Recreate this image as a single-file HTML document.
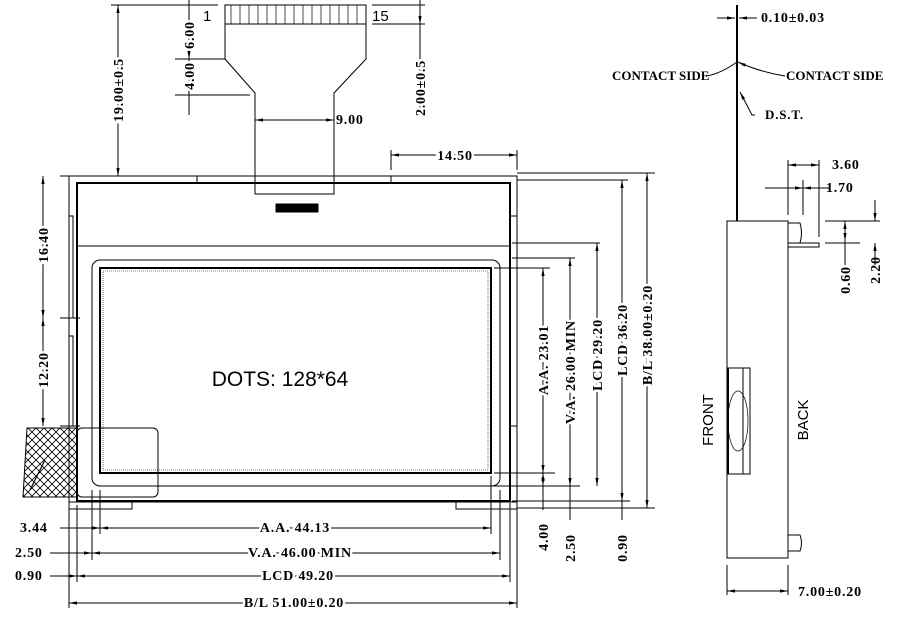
<!DOCTYPE html>
<html><head><meta charset="utf-8"><style>
html,body{margin:0;padding:0;background:#fff}
svg{display:block}
text{font-family:"Liberation Serif",serif;font-weight:bold;font-size:14px;letter-spacing:0.8px;fill:#000}
.m{text-anchor:middle}
.w{paint-order:stroke;stroke:#fff;stroke-width:5px}
.s{font-family:"Liberation Sans",sans-serif;font-weight:normal;letter-spacing:0}
</style></head><body>
<svg width="899" height="617" viewBox="0 0 899 617" xmlns="http://www.w3.org/2000/svg">
<defs>
<pattern id="h" width="8" height="8" patternUnits="userSpaceOnUse">
<path d="M0 0L8 8M8 0L0 8" stroke="#000" stroke-width="0.8"/>
</pattern>
<marker id="a" viewBox="0 0 10 6" refX="10" refY="3" markerWidth="8" markerHeight="5" orient="auto-start-reverse"><path d="M0 1L10 3L0 5z" fill="#000"/></marker>
</defs>
<g fill="none" stroke="#000" stroke-width="1">
<rect x="225" y="5" width="141" height="19"/>
<path d="M225 24V59L255 93V194H334V93L366 59V24"/>
<g stroke-width="0.7">
<path d="M231 5V24M240 5V24M249 5V24M258 5V24M267 5V24M276 5V24M285 5V24M294 5V24M303 5V24M312 5V24M321 5V24M330 5V24M339 5V24M348 5V24M357 5V24"/>
</g>
<rect x="276" y="204" width="42" height="8" fill="#000"/>
<rect x="69" y="176" width="448" height="326"/>
<rect x="77" y="183" width="433" height="318" stroke-width="2"/>
<path d="M77 246H510"/>
<path d="M197 176V183M391 176V183"/>
<rect x="92" y="260" width="408" height="226" rx="8"/>
<rect x="100" y="268" width="391" height="205" stroke-width="2"/>
<rect x="103" y="271" width="385" height="199" stroke-width="0.6" stroke-dasharray="1 1"/>
<path d="M69 502v7h63v-7M456 502v7h61v-7"/>
<path d="M69 318H73V216H69M69 426H73V336H69"/>
<path d="M510 216H517V318M510 426H517V490"/>
<path d="M27 428H77V497H23z" fill="url(#h)"/>
<path d="M30 490L45 460" stroke-width="1.2"/>
<rect x="77" y="428" width="81" height="69" rx="5"/>
<path d="M118 5V176" marker-start="url(#a)" marker-end="url(#a)"/>
<path d="M60 176H90M60 318H80M60 426H80"/>
<path d="M43 176V318" marker-start="url(#a)" marker-end="url(#a)"/>
<path d="M43 318V426" marker-start="url(#a)" marker-end="url(#a)"/>
<path d="M111 5H218M175 59H225M175 95H250"/>
<path d="M189 0V59" marker-end="url(#a)"/>
<path d="M189 59V95" marker-start="url(#a)" marker-end="url(#a)"/>
<path d="M189 95V115"/>
<path d="M372 5H425M372 24H425"/>
<path d="M420 0V24" marker-end="url(#a)"/>
<path d="M420 24V115"/>
<path d="M255 120H334" marker-start="url(#a)" marker-end="url(#a)"/>
<path d="M391 150V170M517 150V170"/>
<path d="M391 155H517" marker-start="url(#a)" marker-end="url(#a)"/>
<path d="M69 505V608M77 505V582M92 490V560M100 490V534M491 476V534M500 490V560M510 503V582M517 503V608"/>
<path d="M60 528H100" marker-end="url(#a)"/>
<path d="M100 528H491" marker-start="url(#a)" marker-end="url(#a)"/>
<path d="M50 553H92" marker-end="url(#a)"/>
<path d="M92 553H500" marker-start="url(#a)" marker-end="url(#a)"/>
<path d="M50 576H77" marker-end="url(#a)"/>
<path d="M77 576H510" marker-start="url(#a)" marker-end="url(#a)"/>
<path d="M69 603H517" marker-start="url(#a)" marker-end="url(#a)"/>
<path d="M494 268H550M494 473H555M494 486H580M512 258H575M512 243H600M512 501H630M517 508H655M517 180H628M517 173H655"/>
<path d="M543 268V473" marker-start="url(#a)" marker-end="url(#a)"/>
<path d="M543 473V486" marker-start="url(#a)" marker-end="url(#a)"/>
<path d="M543 486V510"/>
<path d="M570 258V486" marker-start="url(#a)" marker-end="url(#a)"/>
<path d="M570 486V520"/>
<path d="M597 243V486" marker-start="url(#a)" marker-end="url(#a)"/>
<path d="M622 180V501" marker-start="url(#a)" marker-end="url(#a)"/>
<path d="M622 501V520"/>
<path d="M647 173V508" marker-start="url(#a)" marker-end="url(#a)"/>
<path d="M737 5V221" stroke-width="2"/>
<rect x="727" y="221" width="61" height="337"/>
<path d="M727 368H750V474H727" fill="#fff"/>
<path d="M728 368V474" stroke-width="2"/>
<path d="M743 368V474"/>
<ellipse cx="738" cy="421" rx="10" ry="30" stroke-width="0.7"/>
<path d="M788 223H800Q803 233 800 243H788"/>
<path d="M788 243H819V247H788"/>
<path d="M788 535H800Q803 543 800 551H788"/>
<path d="M717 18H735" marker-end="url(#a)"/>
<path d="M757 18H739" marker-end="url(#a)"/>
<path d="M706 76Q720 74 737 62"/>
<path d="M785 76Q760 72 738 62" marker-end="url(#a)"/>
<path d="M755 115H752L740 92" marker-end="url(#a)"/>
<path d="M788 160V215M819 160V237M803 180V215"/>
<path d="M788 165H819" marker-start="url(#a)" marker-end="url(#a)"/>
<path d="M765 188H803" marker-end="url(#a)"/>
<path d="M829 188H803" marker-end="url(#a)"/>
<path d="M825 221H880M825 243H860"/>
<path d="M845 221V241" marker-start="url(#a)" marker-end="url(#a)"/>
<path d="M845 241V265"/>
<path d="M875 200V221" marker-end="url(#a)"/>
<path d="M875 265V243" marker-end="url(#a)"/>
<path d="M727 565V595M788 565V595"/>
<path d="M727 591H788" marker-start="url(#a)" marker-end="url(#a)"/>
</g>
<text x="203" y="21" class="s" style="font-size:15px">1</text>
<text x="372" y="21" class="s" style="font-size:15px">15</text>
<text x="336" y="124">9.00</text>
<text x="455" y="160" class="m w">14.50</text>
<text class="s m" x="280" y="386" style="font-size:21px">DOTS: 128*64</text>
<text class="m w" transform="translate(123,90) rotate(-90)">19.00±0.5</text>
<text class="m w" transform="translate(48,245) rotate(-90)">16.40</text>
<text class="m w" transform="translate(48,370) rotate(-90)">12.20</text>
<text class="m w" transform="translate(194,35) rotate(-90)">6.00</text>
<text class="m w" transform="translate(194,76) rotate(-90)">4.00</text>
<text class="m w" transform="translate(425,88) rotate(-90)">2.00±0.5</text>
<text class="m w" transform="translate(548,360) rotate(-90)">A.A. 23.01</text>
<text class="m w" transform="translate(575,372) rotate(-90)">V.A. 26.00 MIN</text>
<text class="m w" transform="translate(602,355) rotate(-90)">LCD 29.20</text>
<text class="m w" transform="translate(627,340) rotate(-90)">LCD 36.20</text>
<text class="m w" transform="translate(652,335) rotate(-90)">B/L 38.00±0.20</text>
<text class="m" transform="translate(548,537) rotate(-90)">4.00</text>
<text class="m" transform="translate(575,548) rotate(-90)">2.50</text>
<text class="m" transform="translate(627,548) rotate(-90)">0.90</text>
<text class="m" transform="translate(850,280) rotate(-90)">0.60</text>
<text class="m" transform="translate(880,270) rotate(-90)">2.20</text>
<text class="s m" transform="translate(713,420) rotate(-90)" style="font-size:15px">FRONT</text>
<text class="s m" transform="translate(808,420) rotate(-90)" style="font-size:15px">BACK</text>
<text x="20" y="532">3.44</text>
<text x="15" y="557">2.50</text>
<text x="15" y="580">0.90</text>
<text x="295" y="532" class="m w">A.A. 44.13</text>
<text x="300" y="557" class="m w">V.A. 46.00 MIN</text>
<text x="298" y="580" class="m w">LCD 49.20</text>
<text x="294" y="607" class="m w">B/L 51.00±0.20</text>
<text x="761" y="22">0.10±0.03</text>
<text x="612" y="80" style="font-size:13px;letter-spacing:0">CONTACT SIDE</text>
<text x="786" y="80" style="font-size:13px;letter-spacing:0">CONTACT SIDE</text>
<text x="765" y="119" style="font-size:13px">D.S.T.</text>
<text x="832" y="169">3.60</text>
<text x="826" y="192">1.70</text>
<text x="798" y="596">7.00±0.20</text>
</svg>
</body></html>
